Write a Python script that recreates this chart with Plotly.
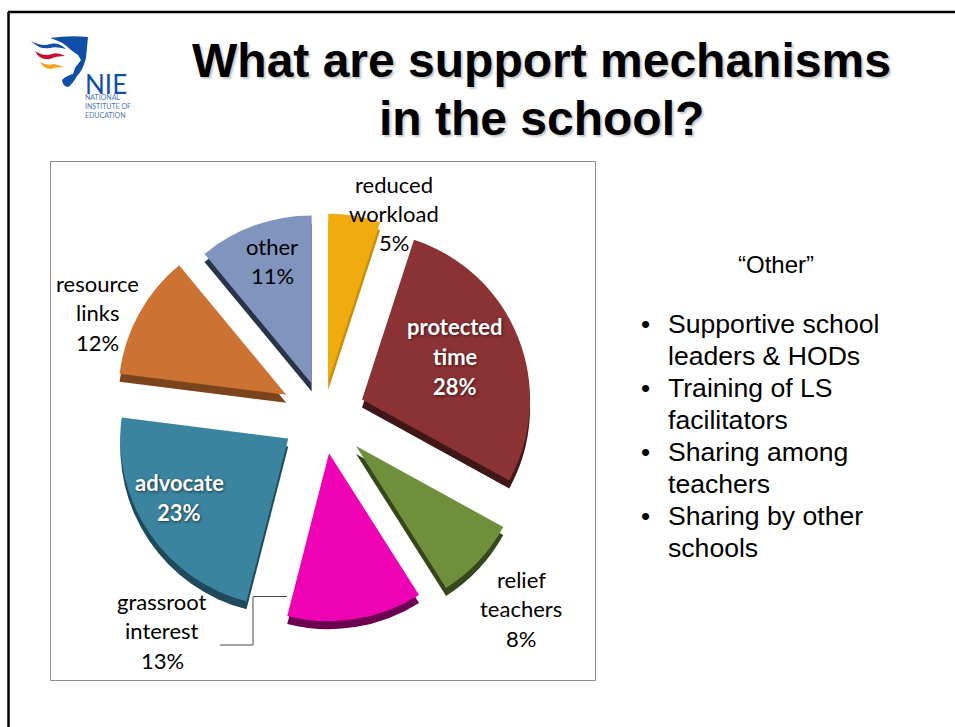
import plotly.graph_objects as go

W, H = 955, 727

# Pie data, clockwise from twelve o'clock
categories = ["reduced workload", "protected time", "relief teachers", "grassroot interest",
              "advocate", "resource links", "other"]
shares = [5, 28, 8, 13, 23, 12, 11]
face_colors = ["#F0AB0E", "#8B3234", "#6F8F3C", "#EE02B3", "#3A849F", "#CC7334", "#8094BE"]
side_colors = ["#C98F0C", "#401718", "#36471C", "#6B0050", "#1F4A5C", "#7C441C", "#2A3449"]
explode = [0.2, 0.25, 0.27, 0.23, 0.25, 0.25, 0.2]

other_heading = "\u201cOther\u201d"
other_items = [
    ["Supportive school", "leaders & HODs"],
    ["Training of LS", "facilitators"],
    ["Sharing among", "teachers"],
    ["Sharing by other", "schools"],
]
title_lines = ["What are support mechanisms", "in the school?"]
logo_small = ["NATIONAL", "INSTITUTE OF", "EDUCATION"]


def fx(x):
    return x / W


def fy(y):
    return 1 - y / H


def path(points):
    """Build an SVG path in paper units from (command, x, y, ...) tuples given in pixels."""
    out = []
    for cmd, *c in points:
        pairs = [f"{fx(c[i]):.5f},{fy(c[i + 1]):.5f}" for i in range(0, len(c), 2)]
        out.append(cmd + " " + " ".join(pairs))
    return " ".join(out) + " Z"


# Pie placement
cx, cy, radius = 323, 415, 168
side_depth = 8
half = radius * (1 + max(explode))


def pie(colors, dy):
    return go.Pie(
        labels=categories, values=shares, sort=False, direction="clockwise", rotation=0,
        pull=explode, marker=dict(colors=colors, line=dict(width=0)),
        textinfo="none", hoverinfo="label+percent", showlegend=False,
        domain=dict(x=[fx(cx - half), fx(cx + half)],
                    y=[fy(cy + half + dy), fy(cy - half + dy)]),
    )


fig = go.Figure([pie(side_colors, side_depth), pie(face_colors, 0)])

shapes = [
    # slide edge
    dict(type="line", xref="paper", yref="paper", x0=fx(8.5), x1=fx(8.5), y0=fy(12), y1=fy(H),
         line=dict(color="#000000", width=2.5)),
    dict(type="line", xref="paper", yref="paper", x0=fx(8), x1=1, y0=fy(12), y1=fy(12),
         line=dict(color="#000000", width=2.5)),
    # chart frame
    dict(type="rect", xref="paper", yref="paper", x0=fx(50.5), x1=fx(595.5), y0=fy(161.5), y1=fy(680.5),
         line=dict(color="#8C8C8C", width=1), fillcolor="#FFFFFF", layer="below"),
    # leader line for the grassroot label
    dict(type="path", xref="paper", yref="paper", layer="above",
         path=" ".join([f"M {fx(220):.5f},{fy(645):.5f}", f"L {fx(253):.5f},{fy(645):.5f}",
                        f"L {fx(253):.5f},{fy(596.5):.5f}", f"L {fx(287):.5f},{fy(596.5):.5f}"]),
         line=dict(color="#4A4A4A", width=1)),
]

# Emblem
emblem = [
    ("#0F4FA8", [("M", 50, 38), ("Q", 70, 35, 88, 37), ("L", 86, 58), ("Q", 83, 70, 77, 76),
                 ("Q", 72, 85, 68, 87), ("Q", 63, 87, 62, 80), ("Q", 66, 76, 73, 74),
                 ("L", 75, 68), ("L", 81, 60), ("L", 78, 55), ("L", 71, 50), ("Q", 62, 41, 50, 38)]),
    ("#0F4FA8", [("M", 31, 41), ("Q", 42, 47, 50, 44), ("Q", 58, 42, 66, 49),
                 ("Q", 56, 46, 50, 48), ("Q", 40, 50, 31, 41)]),
    ("#C8102E", [("M", 35, 51), ("Q", 44, 57, 52, 54), ("Q", 58, 52, 65, 56),
                 ("Q", 56, 56, 50, 59), ("Q", 40, 61, 35, 51)]),
    ("#F5A31A", [("M", 40, 62), ("Q", 47, 66, 54, 64), ("L", 64, 67),
                 ("Q", 56, 67, 50, 69), ("Q", 44, 69, 40, 62)]),
]
for color, pts in emblem:
    shapes.append(dict(type="path", xref="paper", yref="paper", layer="above",
                       path=path(pts), fillcolor=color, line=dict(width=0)))

annotations = []


def put(text, x, y, size, color="#000000", family="Lato", anchor="center", **font_extra):
    annotations.append(dict(
        text=text, x=fx(x), y=fy(y), xref="paper", yref="paper", showarrow=False,
        xanchor=anchor, yanchor="middle", align=anchor,
        font=dict(size=size, color=color, family=family, **font_extra),
    ))


# Heading
for line, y in zip(title_lines, [61, 119]):
    put(f"<b>{line}</b>", 541, y, 48, family="Liberation Sans", shadow="2px 2px 2px rgba(0,0,0,0.22)")

# Slice labels: text lines, centre x, first line y
label_layout = {
    "reduced workload": (["reduced", "workload"], 394, 184),
    "protected time": (["protected", "time"], 455, 327),
    "relief teachers": (["relief", "teachers"], 521, 579),
    "grassroot interest": (["grassroot", "interest"], 162, 601),
    "advocate": (["advocate"], 179, 483),
    "resource links": (["resource", "links"], 97, 283),
    "other": (["other"], 272, 246),
}
on_dark = {"protected time", "advocate"}
for name, share in zip(categories, shares):
    words, x, y = label_layout[name]
    lines = words + [f"{share}%"]
    for i, line in enumerate(lines):
        if name in on_dark:
            put(f"<b>{line}</b>", x, y + i * 29.5, 22, color="#FFFFFF",
                shadow="1px 1px 3px rgba(0,0,0,0.6)")
        else:
            put(line, x, y + i * 29.5, 22)

# Note on the right
put(other_heading, 776, 264, 24, family="Liberation Sans")
row = 324
for item in other_items:
    for i, line in enumerate(item):
        if i == 0:
            put("\u2022", 645, row, 26, family="Liberation Sans")
        put(line, 666, row, 26.6, family="Liberation Sans", anchor="left")
        row += 32

# Wordmark
put("NIE", 106, 84, 26, color="#0F4FA8", family="Lato")
put("<br>".join(logo_small), 83, 106, 7, color="#4F77B5", family="Lato", anchor="left")

fig.update_layout(
    width=W, height=H, margin=dict(l=0, r=0, t=0, b=0),
    paper_bgcolor="#FFFFFF", plot_bgcolor="#FFFFFF",
    shapes=shapes, annotations=annotations, showlegend=False,
)
fig.write_html("out.html", config=dict(displayModeBar=False))
